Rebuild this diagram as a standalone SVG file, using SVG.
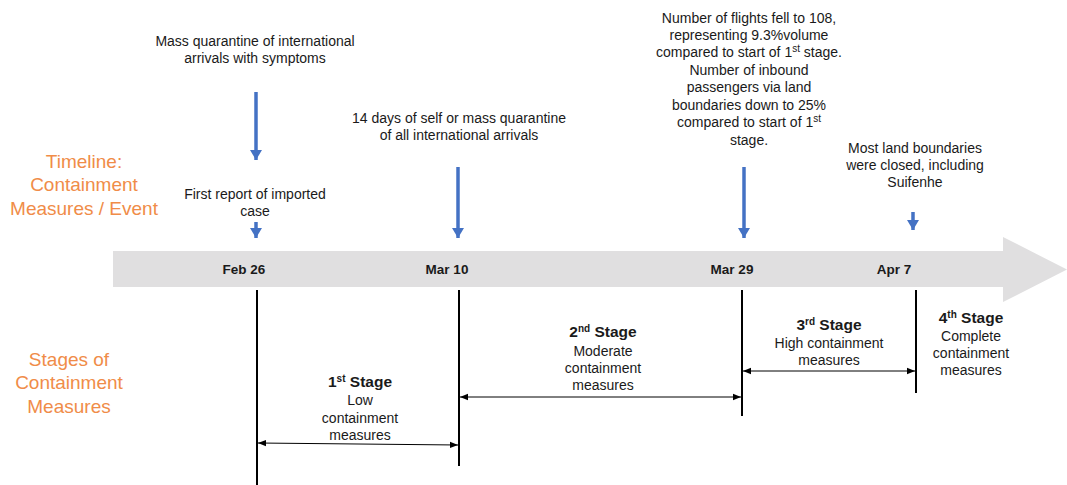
<svg xmlns="http://www.w3.org/2000/svg" width="1067" height="485" viewBox="0 0 1067 485">
<style>
text{font-family:"Liberation Sans",Arial,sans-serif;fill:#1a1a1a;text-anchor:middle}
.n{font-size:14px}
.lab{font-size:19px;fill:#F08C48}
.d{font-size:13.5px;font-weight:bold}
.st{font-size:15.5px;font-weight:bold}
.sup{font-size:10px}
.blue{stroke:#4472C4;stroke-width:3.5;fill:none}
.vl{stroke:#000;stroke-width:2;fill:none}
.da{stroke:#000;stroke-width:1;fill:none;marker-start:url(#ah);marker-end:url(#ah)}
</style>
<defs>
<marker id="bh" viewBox="0 0 12 10" refX="6" refY="10" markerWidth="12" markerHeight="10" markerUnits="userSpaceOnUse" orient="0">
<path d="M0,0 L12,0 L6,10 Z" fill="#4472C4"/>
</marker>
<marker id="ah" viewBox="0 0 8 8" refX="8" refY="4" markerWidth="8" markerHeight="8" markerUnits="userSpaceOnUse" orient="auto-start-reverse">
<path d="M0,0.8 L8,4 L0,7.2 Z" fill="#000"/>
</marker>
</defs>
<g id="timeline-band">
<path d="M113,251 L1003,251 L1003,237 L1067,269.5 L1003,302 L1003,287 L113,287 Z" fill="#E0DFE0"/>
</g>
<g id="row-labels">
<text class="lab" x="84" y="168">Timeline:</text>
<text class="lab" x="84" y="191">Containment</text>
<text class="lab" x="84" y="215">Measures / Event</text>
<text class="lab" x="69" y="366">Stages of</text>
<text class="lab" x="69" y="389">Containment</text>
<text class="lab" x="69" y="413">Measures</text>
</g>
<g id="dates">
<text class="d" x="244" y="274">Feb 26</text>
<text class="d" x="447" y="274">Mar 10</text>
<text class="d" x="732" y="274">Mar 29</text>
<text class="d" x="894" y="274">Apr 7</text>
</g>
<g id="event-feb26-a">
<text class="n" x="255" y="46">Mass quarantine of international</text>
<text class="n" x="255" y="63">arrivals with symptoms</text>
</g>
<g id="event-feb26-b">
<text class="n" x="255" y="199">First report of imported</text>
<text class="n" x="255" y="216">case</text>
</g>
<g id="event-mar10">
<text class="n" x="459" y="123">14 days of self or mass quarantine</text>
<text class="n" x="459" y="140">of all international arrivals</text>
</g>
<g id="event-mar29">
<text class="n" x="749" y="23">Number of flights fell to 108,</text>
<text class="n" x="749" y="40">representing 9.3%volume</text>
<text class="n" x="749" y="57">compared to start of 1<tspan class="sup" dy="-5">st</tspan><tspan dy="5"> stage.</tspan></text>
<text class="n" x="749" y="75">Number of inbound</text>
<text class="n" x="749" y="92">passengers via land</text>
<text class="n" x="749" y="110">boundaries down to 25%</text>
<text class="n" x="749" y="127">compared to start of 1<tspan class="sup" dy="-5">st</tspan></text>
<text class="n" x="749" y="145">stage.</text>
</g>
<g id="event-apr7">
<text class="n" x="915" y="153">Most land boundaries</text>
<text class="n" x="915" y="170">were closed, including</text>
<text class="n" x="915" y="187">Suifenhe</text>
</g>
<g id="stage1">
<text class="st" x="360" y="387">1<tspan class="sup" dy="-5">st</tspan><tspan dy="5"> Stage</tspan></text>
<text class="n" x="360" y="405">Low</text>
<text class="n" x="360" y="423">containment</text>
<text class="n" x="360" y="440">measures</text>
</g>
<g id="stage2">
<text class="st" x="603" y="337">2<tspan class="sup" dy="-5">nd</tspan><tspan dy="5"> Stage</tspan></text>
<text class="n" x="603" y="356">Moderate</text>
<text class="n" x="603" y="373">containment</text>
<text class="n" x="603" y="390">measures</text>
</g>
<g id="stage3">
<text class="st" x="829" y="330">3<tspan class="sup" dy="-5">rd</tspan><tspan dy="5"> Stage</tspan></text>
<text class="n" x="829" y="348">High containment</text>
<text class="n" x="829" y="365">measures</text>
</g>
<g id="stage4">
<text class="st" x="971" y="323">4<tspan class="sup" dy="-5">th</tspan><tspan dy="5"> Stage</tspan></text>
<text class="n" x="971" y="341">Complete</text>
<text class="n" x="971" y="358">containment</text>
<text class="n" x="971" y="375">measures</text>
</g>
<g id="connectors">
<line class="blue" x1="256" y1="92" x2="256" y2="160" marker-end="url(#bh)"/>
<line class="blue" x1="256" y1="222" x2="256" y2="238" marker-end="url(#bh)"/>
<line class="blue" x1="458" y1="167" x2="458" y2="238" marker-end="url(#bh)"/>
<line class="blue" x1="744" y1="167" x2="744" y2="238" marker-end="url(#bh)"/>
<line class="blue" x1="913" y1="212" x2="913" y2="230" marker-end="url(#bh)"/>
<line class="vl" x1="257" y1="290" x2="257" y2="485"/>
<line class="vl" x1="459" y1="290" x2="459" y2="466"/>
<line class="vl" x1="742" y1="290" x2="742" y2="416"/>
<line class="vl" x1="916" y1="290" x2="916" y2="393"/>
<line class="da" x1="258" y1="443" x2="458" y2="445"/>
<line class="da" x1="460" y1="397" x2="741" y2="397"/>
<line class="da" x1="743" y1="371" x2="915" y2="371"/>
</g>
</svg>
